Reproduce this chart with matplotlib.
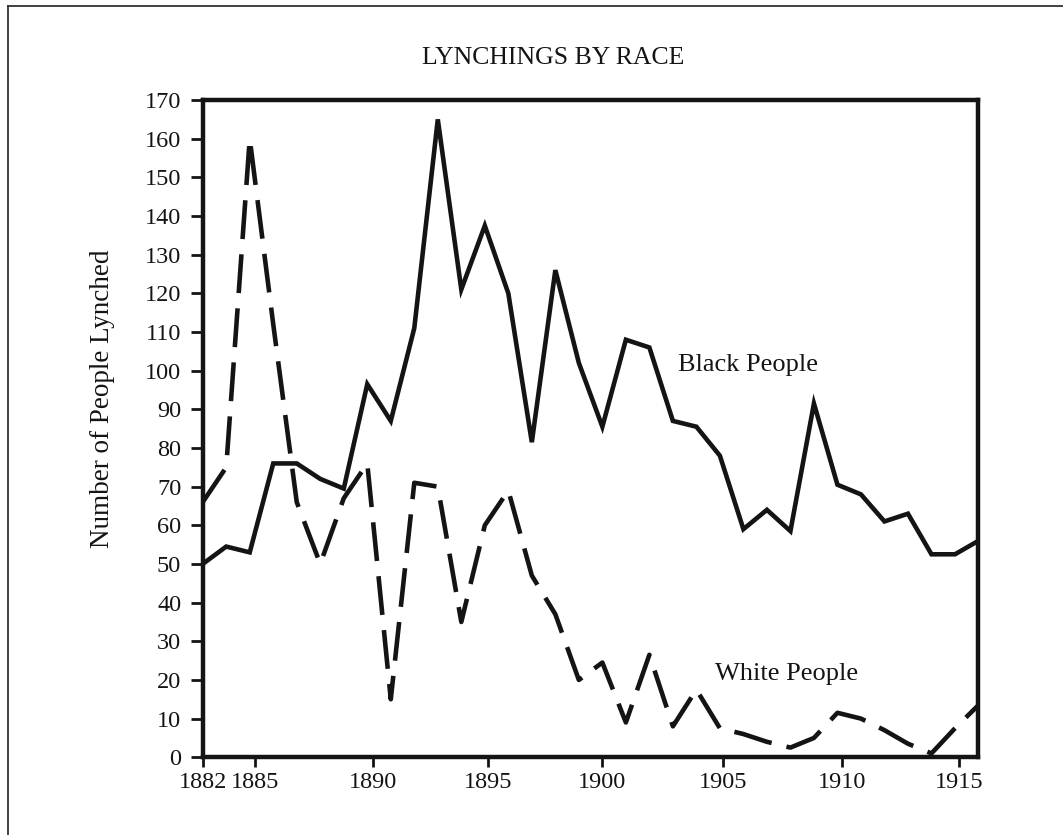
import matplotlib
matplotlib.use("Agg")
import matplotlib.pyplot as plt
from matplotlib.lines import Line2D

years = list(range(1882, 1916))

black = [50, 54.5, 53, 76, 76, 72, 69.5, 96.5, 87, 111, 165, 121, 137.5, 120,
         81.5, 126, 102, 85.5, 108, 106, 87, 85.5, 78, 59, 64, 58.5, 91.5, 70.5,
         68, 61, 63, 52.5, 52.5, 56]

white = [66, 75, 160, 112, 66, 50, 67, 76, 15, 71, 70, 35, 60, 69,
         47, 37, 20, 24.5, 9, 26.5, 8, 17.5, 7.5, 6, 4, 2.5, 5, 11.5,
         10, 7, 3.5, 1, 7.5, 13.5]

tick_labels = ["1882", "1885", "1890", "1895", "1900", "1905", "1910", "1915"]

plt.rcParams['font.family'] = ['Liberation Serif', 'DejaVu Serif']
plt.rcParams['lines.scale_dashes'] = False

fig = plt.figure(figsize=(10.63, 8.35), dpi=100)
ax = fig.add_axes([0.1907, 0.0931, 0.7298, 0.7871])

ink = "#141414"
ax.plot(years, black, color=ink, linewidth=3.3, solid_joinstyle="miter")
ax.plot(years, white, color=ink, linewidth=3.3, dashes=(28, 11),
        dash_capstyle="butt")

ax.set_xlim(1882, 1915)
ax.set_ylim(0, 170)
ax.set_yticks(range(0, 171, 10))
# tick marks sit where the original drawing put them
ax.set_xticks([1882, 1884.22, 1889.26, 1894.15, 1898.97, 1904.14, 1909.18, 1914.18])
ax.set_xticklabels(tick_labels)

for s in ax.spines.values():
    s.set_linewidth(3.2)
    s.set_color(ink)
ax.tick_params(axis="y", direction="out", length=8.5, width=2, pad=7,
               labelsize=17.5, colors=ink)
ax.tick_params(axis="x", direction="out", length=7.5, width=2, pad=3,
               labelsize=17.5, colors=ink)

ax.set_ylabel("Number of People Lynched", fontsize=19.5, color=ink)
ax.yaxis.set_label_coords(-0.113, 0.545)
fig.text(0.5205, 0.930, "LYNCHINGS BY RACE", ha="center", va="center",
         fontsize=18.5, color=ink)

ax.text(1902.2, 101.5, "Black People", fontsize=19, color=ink, va="center")
ax.text(1903.8, 21.5, "White People", fontsize=19, color=ink, va="center")

# frame of the scanned page
fig.add_artist(Line2D([0.0075, 0.0075], [0.0, 0.9928], transform=fig.transFigure,
                      color="#333333", linewidth=1.3))
fig.add_artist(Line2D([0.0075, 1.0], [0.9928, 0.9928], transform=fig.transFigure,
                      color="#333333", linewidth=1.3))

fig.savefig("out.png", dpi=100)
